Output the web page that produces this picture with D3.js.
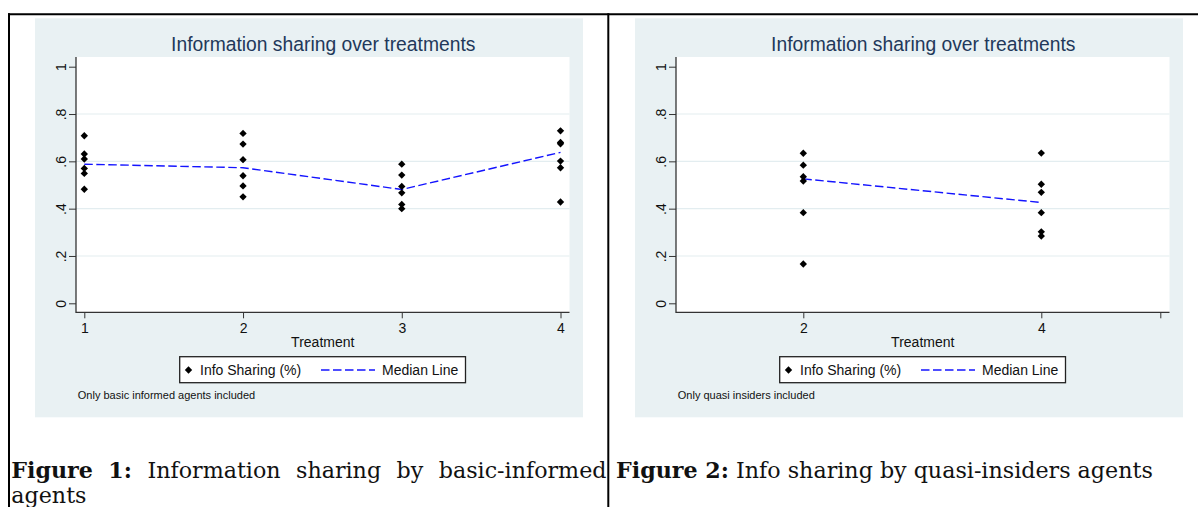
<!DOCTYPE html>
<html><head><meta charset="utf-8">
<script src="https://cdn.jsdelivr.net/npm/d3@7"></script>
<style>html,body{margin:0;padding:0;background:#fff;} svg{display:block;}</style>
</head><body>
<svg id="page" width="1198" height="507"></svg>
<script>
// ---------- shared ----------
const yTicks = [0, 0.2, 0.4, 0.6, 0.8, 1];
const yTickLabels = ["0", ".2", ".4", ".6", ".8", "1"];
const gridValues = [0.2, 0.4, 0.6, 0.8];
const chartTitle = "Information sharing over treatments";
const xAxisTitle = "Treatment";
const legendLabels = ["Info Sharing (%)", "Median Line"];

// ---------- Figure 1 ----------
const treatments1 = [1, 2, 3, 4];
const sharing1 = [
  [0.708, 0.631, 0.610, 0.570, 0.549, 0.482],
  [0.718, 0.673, 0.607, 0.539, 0.496, 0.450],
  [0.588, 0.542, 0.494, 0.467, 0.418, 0.400],
  [0.729, 0.680, 0.674, 0.601, 0.573, 0.428]
];
const median1 = [0.588, 0.573, 0.481, 0.638];
const xTicks1 = [1, 2, 3, 4];
const xTickLabels1 = ["1", "2", "3", "4"];
const note1 = "Only basic informed agents included";
const captionBold1 = "Figure 1:";
const captionText1 = "Information sharing by basic-informed agents";

// ---------- Figure 2 ----------
const treatments2 = [2, 4];
const sharing2 = [
  [0.634, 0.584, 0.535, 0.517, 0.383, 0.166],
  [0.635, 0.503, 0.469, 0.383, 0.302, 0.284]
];
const median2 = [0.526, 0.426];
const xTicks2 = [2, 4, 5];
const xTickLabels2 = ["2", "4", ""];
const note2 = "Only quasi insiders included";
const captionBold2 = "Figure 2:";
const captionText2 = "Info sharing by quasi-insiders agents";

const svg = d3.select("#page");
const SANS = "'Liberation Sans', Arial, Helvetica, sans-serif";
const SERIF = "'DejaVu Serif', 'Liberation Serif', serif";

// page frame (document table borders)
svg.append("line").attr("x1", 8).attr("x2", 1198).attr("y1", 14.3).attr("y2", 14.3)
  .attr("stroke", "#000").attr("stroke-width", 2);
svg.append("line").attr("x1", 9).attr("x2", 9).attr("y1", 13.3).attr("y2", 507)
  .attr("stroke", "#000").attr("stroke-width", 2);
svg.append("line").attr("x1", 608.3).attr("x2", 608.3).attr("y1", 13.3).attr("y2", 507)
  .attr("stroke", "#000").attr("stroke-width", 2);

function drawPanel(offsetX, cfg) {
  const g = svg.append("g").attr("transform", `translate(${offsetX},0)`);
  const plot = {left: 76, right: 569.5, top: 57, bottom: 312.3};

  g.append("rect").attr("x", 35).attr("y", 18.3).attr("width", 548).attr("height", 399)
    .attr("fill", "#e9f1f3");
  g.append("rect").attr("x", plot.left).attr("y", plot.top)
    .attr("width", plot.right - plot.left).attr("height", plot.bottom - plot.top)
    .attr("fill", "#fff");

  const y = d3.scaleLinear().domain([0, 1]).range([303.3, 66.7]);
  const x = d3.scaleLinear().domain(cfg.xDomain).range(cfg.xRange);

  // grid
  g.append("g").selectAll("line").data(gridValues).join("line")
    .attr("x1", plot.left).attr("x2", plot.right)
    .attr("y1", d => y(d)).attr("y2", d => y(d))
    .attr("stroke", "#e3edf0").attr("stroke-width", 1.2);

  // title
  g.append("text").attr("x", (plot.left + plot.right) / 2 + 0.5).attr("y", 50.7)
    .attr("text-anchor", "middle").attr("font-family", SANS).attr("font-size", 19.3)
    .attr("fill", "#22385a").text(chartTitle);

  // y axis
  const yAxis = d3.axisLeft(y).tickValues(yTicks).tickSize(7).tickSizeOuter(0)
    .tickFormat((d, i) => yTickLabels[i]);
  const ya = g.append("g").attr("transform", `translate(${plot.left},0)`).call(yAxis);
  ya.select(".domain").remove();
  ya.selectAll(".tick line").attr("stroke", "#333").attr("stroke-width", 1);
  ya.selectAll(".tick text").attr("x", null).attr("dy", null)
    .attr("transform", "translate(-10.5,0) rotate(-90)")
    .attr("text-anchor", "middle").attr("font-family", SANS).attr("font-size", 14)
    .attr("fill", "#111");
  g.append("line").attr("x1", plot.left).attr("x2", plot.left)
    .attr("y1", plot.top).attr("y2", plot.bottom + 0.6)
    .attr("stroke", "#333").attr("stroke-width", 1.3);

  // x axis
  const xAxis = d3.axisBottom(x).tickValues(cfg.xTicks).tickSize(6).tickSizeOuter(0)
    .tickPadding(6).tickFormat((d, i) => cfg.xTickLabels[i]);
  const xa = g.append("g").attr("transform", `translate(0,${plot.bottom})`).call(xAxis);
  xa.select(".domain").remove();
  xa.selectAll(".tick line").attr("stroke", "#333").attr("stroke-width", 1);
  xa.selectAll(".tick text").attr("dy", null).attr("y", 20.6)
    .attr("font-family", SANS).attr("font-size", 14).attr("fill", "#111");
  g.append("line").attr("x1", plot.left).attr("x2", plot.right)
    .attr("y1", plot.bottom).attr("y2", plot.bottom)
    .attr("stroke", "#333").attr("stroke-width", 1.3);

  g.append("text").attr("x", (plot.left + plot.right) / 2).attr("y", 346.7)
    .attr("text-anchor", "middle").attr("font-family", SANS).attr("font-size", 14)
    .attr("fill", "#111").text(xAxisTitle);

  // median line
  const line = d3.line().x((d, i) => x(cfg.treatments[i])).y(d => y(d));
  g.append("path").datum(cfg.median).attr("d", line).attr("fill", "none")
    .attr("stroke", "#1414ff").attr("stroke-width", 1.4).attr("stroke-dasharray", "8.5,3.5");

  // points
  const diamond = d3.symbol().type(d3.symbolSquare).size(27);
  const pts = [];
  cfg.sharing.forEach((vals, i) => vals.forEach(v => pts.push({t: cfg.treatments[i], v})));
  g.append("g").selectAll("path").data(pts).join("path")
    .attr("d", diamond)
    .attr("transform", d => `translate(${x(d.t)},${y(d.v)}) rotate(45)`)
    .attr("fill", "#000");

  // legend
  const lg = g.append("g");
  lg.append("rect").attr("x", 179.7).attr("y", 356.7).attr("width", 285.8).attr("height", 26)
    .attr("fill", "#fff").attr("stroke", "#222").attr("stroke-width", 1.3);
  lg.append("path").attr("d", diamond)
    .attr("transform", "translate(188.5,370) rotate(45)").attr("fill", "#000");
  lg.append("text").attr("x", 200).attr("y", 375).attr("font-family", SANS)
    .attr("font-size", 14).attr("fill", "#111").text(legendLabels[0]);
  lg.append("line").attr("x1", 321).attr("x2", 375).attr("y1", 370).attr("y2", 370)
    .attr("stroke", "#1414ff").attr("stroke-width", 1.4).attr("stroke-dasharray", "8.5,3.5");
  lg.append("text").attr("x", 382).attr("y", 375).attr("font-family", SANS)
    .attr("font-size", 14).attr("fill", "#111").text(legendLabels[1]);

  // note
  g.append("text").attr("x", 77.8).attr("y", 399).attr("font-family", SANS)
    .attr("font-size", 11).attr("fill", "#111").text(cfg.note);
}

drawPanel(0, {xDomain: [1, 4], xRange: [84.3, 560.5], xTicks: xTicks1, xTickLabels: xTickLabels1,
  treatments: treatments1, sharing: sharing1, median: median1, note: note1});
drawPanel(600, {xDomain: [2, 4], xRange: [203.3, 441.3], xTicks: xTicks2, xTickLabels: xTickLabels2,
  treatments: treatments2, sharing: sharing2, median: median2, note: note2});

// ---------- captions ----------
function measure(txt, bold, size) {
  const t = svg.append("text").attr("font-family", SERIF).attr("font-size", size)
    .attr("font-weight", bold ? "bold" : "normal").text(txt);
  const w = t.node().getComputedTextLength();
  t.remove();
  return w;
}
const base = 20;
const natural2 = measure(captionBold2, true, base) + measure(" " + captionText2, false, base);
const capSize = base * 530 / natural2;
const capY1 = 478, capY2 = 502.5;

const cap2 = svg.append("text").attr("x", 616).attr("y", capY1)
  .attr("font-family", SERIF).attr("font-size", capSize).attr("fill", "#111");
cap2.append("tspan").attr("font-weight", "bold").text(captionBold2);
cap2.append("tspan").text(" " + captionText2);

// caption 1 : justified first line, remainder on second line
const words1 = captionText1.split(" ");
const line1 = [{w: "Figure", b: true}, {w: "1:", b: true}]
  .concat(words1.slice(0, words1.length - 1).map(w => ({w, b: false})));
const lastWord = words1[words1.length - 1];
const widths = line1.map(d => measure(d.w, d.b, capSize));
const left = 11.3, right = 606.5;
const gap = (right - left - d3.sum(widths)) / (line1.length - 1);
let cx = left;
line1.forEach((d, i) => {
  svg.append("text").attr("x", cx).attr("y", capY1).attr("font-family", SERIF)
    .attr("font-size", capSize).attr("font-weight", d.b ? "bold" : "normal")
    .attr("fill", "#111").text(d.w);
  cx += widths[i] + gap;
});
svg.append("text").attr("x", left).attr("y", capY2).attr("font-family", SERIF)
  .attr("font-size", capSize).attr("fill", "#111").text(lastWord);
</script>
</body></html>
